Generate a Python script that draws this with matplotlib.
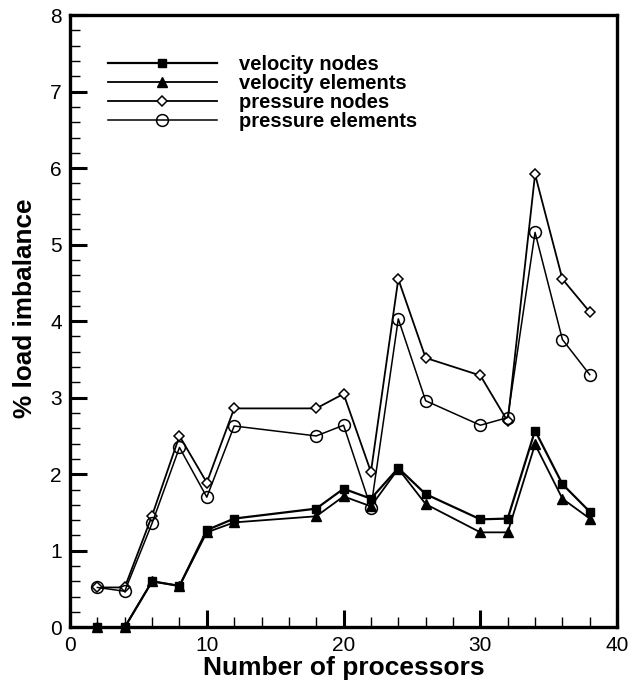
import numpy as np
import matplotlib.pyplot as plt
from matplotlib.ticker import MultipleLocator

plt.rcParams['font.family'] = ['Liberation Sans', 'DejaVu Sans']

# number of processors
procs = [2, 4, 6, 8, 10, 12, 18, 20, 22, 24, 26, 30, 32, 34, 36, 38]

# % load imbalance
vel_nodes = [0.0, 0.0, 0.60, 0.54, 1.27, 1.42, 1.55, 1.81, 1.68, 2.08, 1.74, 1.41, 1.42, 2.57, 1.87, 1.51]
vel_elems = [0.0, 0.0, 0.60, 0.54, 1.24, 1.37, 1.45, 1.71, 1.58, 2.07, 1.61, 1.24, 1.24, 2.39, 1.68, 1.42]
pres_nodes = [0.52, 0.52, 1.46, 2.50, 1.89, 2.86, 2.86, 3.05, 2.03, 4.55, 3.52, 3.29, 2.69, 5.92, 4.55, 4.12]
pres_elems = [0.52, 0.47, 1.36, 2.35, 1.70, 2.63, 2.50, 2.64, 1.56, 4.03, 2.96, 2.64, 2.74, 5.16, 3.76, 3.30]

fig = plt.figure(figsize=(6.31, 6.87), dpi=100)
ax = fig.add_axes([0.111, 0.087, 0.867, 0.891])

ax.plot(procs, vel_nodes, '-', color='black', lw=1.6, marker='s', ms=6,
        mfc='black', mec='black', clip_on=False, zorder=4, label='velocity nodes')
ax.plot(procs, vel_elems, '-', color='black', lw=1.3, marker='^', ms=6.5,
        mfc='black', mec='black', clip_on=False, zorder=3, label='velocity elements')
ax.plot(procs, pres_nodes, '-', color='black', lw=1.3, marker='D', ms=5.5,
        mfc='white', mec='black', mew=1.1, clip_on=False, zorder=3, label='pressure nodes')
ax.plot(procs, pres_elems, '-', color='black', lw=1.1, marker='o', ms=8.5,
        mfc='none', mec='black', mew=1.1, clip_on=False, zorder=3, label='pressure elements')

ax.set_xlim(0, 40)
ax.set_ylim(0, 8)
ax.xaxis.set_major_locator(MultipleLocator(10))
ax.xaxis.set_minor_locator(MultipleLocator(2))
ax.yaxis.set_major_locator(MultipleLocator(1))
ax.yaxis.set_minor_locator(MultipleLocator(0.2))
ax.tick_params(which='major', direction='in', length=12, width=2.2, labelsize=15, pad=6,
               top=False, right=False)
ax.tick_params(which='minor', direction='in', length=7, width=1.0, top=False, right=False)
for s in ax.spines.values():
    s.set_linewidth(2.4)

ax.set_xlabel('Number of processors', fontsize=19, fontweight='bold', labelpad=1)
ax.set_ylabel('% load imbalance', fontsize=18.8, fontweight='bold')
ax.yaxis.set_label_coords(-0.06, 0.521)

leg = ax.legend(loc='upper left', bbox_to_anchor=(108 / 631, 1 - 55 / 687),
                bbox_transform=fig.transFigure, frameon=False, numpoints=1,
                handlelength=5.4, handletextpad=1.1, labelspacing=0.0,
                borderpad=0, borderaxespad=0,
                prop={'weight': 'bold', 'size': 14.5})

fig.savefig('out.png', dpi=100)
